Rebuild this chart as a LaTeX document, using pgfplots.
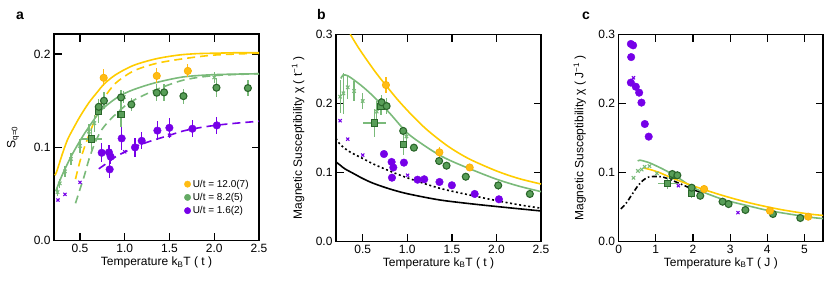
\documentclass[border=0pt]{standalone}
\usepackage{fontspec}
\setmainfont{Liberation Sans}
\usepackage{pgfplots}
\pgfplotsset{compat=1.18}
\definecolor{ygold}{RGB}{255,204,0}
\definecolor{yfill}{RGB}{255,188,20}
\definecolor{yedge}{RGB}{250,175,0}
\definecolor{lgreen}{RGB}{122,186,122}
\definecolor{dgfill}{RGB}{88,158,88}
\definecolor{dgdraw}{RGB}{42,102,42}
\definecolor{purp}{RGB}{118,0,232}
\pgfplotsset{
 panel/.style={scale only axis, anchor=south west,
   axis line style={line width=1.6pt}, tick style={line width=1.3pt, black}, major tick length=7.5pt, tick align=inside,
   xtick pos=both, ytick pos=both, xticklabel pos=lower, yticklabel pos=left,
   tick label style={font=\fontsize{12}{14}\selectfont}, label style={font=\fontsize{12}{14}\selectfont},
   xlabel style={at={(axis description cs:0.5,-0.105)}, anchor=center},
   clip=true},
 ycirc/.style={only marks, mark=*, mark size=3.7pt, color=yfill, mark options={fill=yfill, draw=yedge, line width=0.6pt}, error bars/.cd, y dir=both, y explicit, error mark=none, error bar style={line width=1.3pt, color=yfill}},
 gcirc/.style={only marks, mark=*, mark size=3.5pt, color=dgfill, mark options={fill=dgfill, draw=dgdraw, line width=1.1pt}, error bars/.cd, y dir=both, y explicit, error mark=none, error bar style={line width=1.3pt, color=lgreen}},
 gsq/.style={only marks, mark=square*, mark size=3.1pt, color=dgfill, mark options={fill=dgfill, draw=dgdraw, line width=1.1pt}, error bars/.cd, x dir=both, x explicit, y dir=both, y explicit, error mark=none, error bar style={line width=1.3pt, color=lgreen}},
 lcross/.style={only marks, mark=x, mark size=2.4pt, color=lgreen, mark options={line width=1.1pt}, error bars/.cd, y dir=both, y explicit, error mark=none, error bar style={line width=1.2pt, color=lgreen}},
 pcirc/.style={only marks, mark=*, mark size=3.8pt, color=purp, mark options={fill=purp, draw=purp}, error bars/.cd, y dir=both, y explicit, error mark=none, error bar style={line width=1.3pt, color=purp}},
 pcross/.style={only marks, mark=x, mark size=2.2pt, color=purp, mark options={line width=1.1pt}},
}
\begin{document}
\begin{tikzpicture}[x=1pt,y=1pt]
\useasboundingbox (0,0) rectangle (830,282);
\node[font=\fontsize{14}{16}\selectfont\bfseries, anchor=base west] at (12.5,262) {a};
\node[font=\fontsize{14}{16}\selectfont\bfseries, anchor=base west] at (313.5,262) {b};
\node[font=\fontsize{14}{16}\selectfont\bfseries, anchor=base west] at (578.5,262) {c};
% ---------------- panel a
\begin{axis}[panel, at={(54pt,41.4pt)}, width=205pt, height=206.5pt,
  xmin=0.21, xmax=2.5, ymin=0, ymax=0.2215,
  xtick={0.5,1,1.5,2,2.5}, xticklabels={0.5,1.0,1.5,2.0,2.5},
  ytick={0,0.1,0.2}, yticklabels={0.0,0.1,0.2},
  xlabel={Temperature k\textsubscript{B}T ( t )},
  ylabel={S\textsubscript{q=0}},
  ylabel style={at={(axis description cs:-0.2,0.5)}, anchor=center},
  legend style={at={(axis description cs:0.63,0.31)}, anchor=north west, draw=none, fill=none, font=\fontsize{10}{12}\selectfont, inner sep=1pt, row sep=0.5pt},
  legend cell align=left,
  legend image code/.code={\draw[#1] plot coordinates {(0.25cm,0cm)};},
  ]
\addplot[forget plot, ygold, line width=1.6pt, smooth] coordinates {(0.22,0.070)(0.24,0.074)(0.3,0.092)(0.36,0.108)(0.43,0.121)(0.5,0.133)(0.6,0.148)(0.7,0.160)(0.77,0.168)(0.9,0.178)(1.1,0.188)(1.35,0.195)(1.6,0.199)(1.8,0.2005)(2.0,0.201)(2.25,0.2015)(2.5,0.2015)};
\addplot[forget plot, ygold, line width=1.6pt, dash pattern=on 8pt off 5pt, smooth] coordinates {(0.45,0.066)(0.5,0.085)(0.55,0.100)(0.6,0.113)(0.7,0.138)(0.77,0.153)(0.9,0.169)(1.1,0.182)(1.35,0.190)(1.65,0.195)(2.0,0.199)(2.5,0.201)};
\addplot[forget plot, lgreen, line width=1.6pt, smooth] coordinates {(0.23,0.053)(0.3,0.070)(0.4,0.090)(0.5,0.107)(0.6,0.122)(0.73,0.139)(0.85,0.149)(0.96,0.156)(1.1,0.162)(1.33,0.169)(1.65,0.1755)(2.0,0.178)(2.5,0.179)};
\addplot[forget plot, lgreen, line width=1.6pt, dash pattern=on 8pt off 5pt, smooth] coordinates {(0.45,0.040)(0.5,0.055)(0.55,0.070)(0.6,0.087)(0.66,0.103)(0.73,0.117)(0.82,0.128)(0.95,0.140)(1.07,0.149)(1.33,0.161)(1.65,0.172)(2.0,0.177)(2.5,0.179)};
\addplot[forget plot, purp, line width=1.6pt, dash pattern=on 8pt off 5pt, smooth] coordinates {(0.71,0.077)(0.8,0.083)(0.9,0.090)(1.0,0.095)(1.15,0.102)(1.33,0.108)(1.5,0.113)(1.65,0.1175)(1.8,0.1205)(2.0,0.1235)(2.25,0.126)(2.5,0.128)};
\addplot[forget plot, lcross] coordinates {(0.25,0.052) +- (0,0.004) (0.275,0.0614) +- (0,0.005) (0.332,0.0743) +- (0,0.006) (0.40,0.0876) +- (0,0.006) (0.5,0.1015) +- (0,0.008) (0.60,0.117) +- (0,0.008) (0.66,0.126) +- (0,0.009) (0.99,0.154) +- (0,0.006) (2.0,0.175) +- (0,0.006)};
\addplot[forget plot, pcross] coordinates {(0.254,0.0435)(0.332,0.0496)(0.5,0.0625)(1.0,0.0953)(1.5,0.113)};
\addplot[forget plot, pcirc] coordinates {(0.743,0.0942) +- (0,0.010) (0.824,0.0946) +- (0,0.008) (0.843,0.090) +- (0,0.008) (0.832,0.0764) +- (0,0.009) (0.966,0.1096) +- (0,0.012) (1.115,0.100) +- (0,0.010) (1.19,0.107) +- (0,0.009) (1.365,0.118) +- (0,0.010) (1.499,0.121) +- (0,0.011) (1.756,0.120) +- (0,0.009) (2.029,0.1236) +- (0,0.009)};
\addplot[forget plot, gsq] coordinates {(0.63,0.109) +- (0.12,0.012) (0.705,0.1386) +- (0,0.012) (0.959,0.1354) +- (0,0.014)};
\addplot[forget plot, gcirc] coordinates {(0.71,0.1435) +- (0,0.008) (0.768,0.150) +- (0,0.009) (0.959,0.1536) +- (0,0.008) (1.074,0.146) +- (0,0.007) (1.358,0.1586) +- (0,0.009) (1.44,0.159) +- (0,0.009) (1.656,0.155) +- (0,0.008) (2.025,0.164) +- (0,0.010) (2.376,0.1636) +- (0,0.009)};
\addplot[forget plot, ycirc] coordinates {(0.765,0.1746) +- (0,0.009) (1.358,0.1767) +- (0,0.008) (1.705,0.182) +- (0,0.007)};
\addlegendimage{only marks, mark=*, mark size=3.2pt, yfill}
\addlegendentry{U/t = 12.0(7)}
\addlegendimage{only marks, mark=*, mark size=3.2pt, color={rgb,255:red,100;green,170;blue,100}}
\addlegendentry{U/t = 8.2(5)}
\addlegendimage{only marks, mark=*, mark size=3.2pt, purp}
\addlegendentry{U/t = 1.6(2)}
\end{axis}
% ---------------- panel b
\begin{axis}[panel, at={(336pt,40.7pt)}, width=205pt, height=207pt,
  xmin=0.2, xmax=2.5, ymin=0, ymax=0.3,
  xtick={0.5,1,1.5,2,2.5}, xticklabels={0.5,1.0,1.5,2.0,2.5},
  ytick={0,0.1,0.2,0.3}, yticklabels={0.0,0.1,0.2,0.3},
  xlabel={Temperature k\textsubscript{B}T ( t )},
  ylabel={Magnetic Susceptibility χ ( t\textsuperscript{−1} )},
  ylabel style={at={(axis description cs:-0.185,0.5)}, anchor=center},
  ]
\addplot[forget plot, black, line width=1.6pt, smooth] coordinates {(0.2,0.115)(0.25,0.110)(0.3,0.105)(0.4,0.098)(0.5,0.091)(0.62,0.084)(0.8,0.076)(1.0,0.069)(1.36,0.060)(1.74,0.054)(2.11,0.049)(2.5,0.044)};
\addplot[forget plot, black, line width=1.6pt, dash pattern=on 2pt off 2.6pt, smooth] coordinates {(0.2,0.149)(0.25,0.140)(0.35,0.130)(0.5,0.120)(0.62,0.112)(0.8,0.102)(1.0,0.092)(1.36,0.077)(1.74,0.066)(2.0,0.059)(2.25,0.053)(2.5,0.048)};
\addplot[forget plot, ygold, line width=1.6pt, smooth] coordinates {(0.36,0.30)(0.45,0.281)(0.55,0.262)(0.65,0.244)(0.76,0.226)(0.9,0.204)(1.05,0.183)(1.2,0.164)(1.36,0.147)(1.5,0.134)(1.7,0.119)(2.0,0.102)(2.25,0.091)(2.5,0.083)};
\addplot[forget plot, lgreen, line width=1.6pt, smooth] coordinates {(0.255,0.236)(0.28,0.241)(0.33,0.240)(0.4,0.234)(0.5,0.224)(0.62,0.210)(0.8,0.186)(1.0,0.157)(1.2,0.138)(1.36,0.125)(1.5,0.116)(1.74,0.103)(2.0,0.090)(2.25,0.080)(2.5,0.072)};
\addplot[forget plot, lcross] coordinates {(0.246,0.2096) +- (0,0.024) (0.283,0.2145) +- (0,0.030) (0.332,0.2232) +- (0,0.017) (0.403,0.2178) +- (0,0.015) (0.5,0.2033) +- (0,0.012) (0.657,0.188) +- (0,0.015) (0.99,0.152) +- (0,0.006)};
\addplot[forget plot, pcross] coordinates {(0.246,0.1748)(0.332,0.148)(0.5,0.125)(1.003,0.0957)};
\addplot[forget plot, pcirc] coordinates {(0.738,0.1265)(0.824,0.115)(0.843,0.107)(0.828,0.0922)(0.962,0.114)(1.115,0.0893)(1.19,0.0899)(1.361,0.086)(1.5,0.0812)(1.756,0.0686)(2.028,0.0609)};
\addplot[forget plot, gsq] coordinates {(0.634,0.1714) +- (0.13,0.02) (0.705,0.195) +- (0,0.012) (0.954,0.1405) +- (0,0.015)};
\addplot[forget plot, gcirc] coordinates {(0.712,0.2015) +- (0,0.010) (0.768,0.196) +- (0,0.012) (0.954,0.160) +- (0,0.006) (1.074,0.1357) +- (0,0.005) (1.357,0.1164) +- (0,0.006) (1.44,0.1096) +- (0,0.005) (1.656,0.0936) +- (0,0.004) (2.02,0.081) +- (0,0.006) (2.375,0.0686) +- (0,0.004)};
\addplot[forget plot, ycirc] coordinates {(0.76,0.2265) +- (0,0.012) (1.36,0.129) +- (0,0.008) (1.70,0.107) +- (0,0.004)};
\end{axis}
% ---------------- panel c
\begin{axis}[panel, at={(618.6pt,40.7pt)}, width=204.5pt, height=207pt,
  xmin=0, xmax=5.5, ymin=0, ymax=0.3,
  xtick={0,1,2,3,4,5}, xticklabels={0,1,2,3,4,5},
  ytick={0,0.1,0.2,0.3}, yticklabels={0.0,0.1,0.2,0.3},
  xlabel={Temperature k\textsubscript{B}T ( J )},
  ylabel={Magnetic Susceptibility χ ( J\textsuperscript{−1} )},
  ylabel style={at={(axis description cs:-0.19,0.5)}, anchor=center},
  ]
\addplot[forget plot, black, line width=1.6pt, dash pattern=on 5pt off 2.5pt on 1.5pt off 2.5pt, smooth] coordinates {(0.06,0.047)(0.2,0.055)(0.35,0.067)(0.5,0.079)(0.65,0.088)(0.8,0.093)(1.0,0.094)(1.2,0.093)(1.5,0.087)(1.8,0.080)(2.1,0.073)(2.2,0.071)};
\addplot[forget plot, lgreen, line width=1.6pt, smooth] coordinates {(0.52,0.116)(0.574,0.1176)(0.82,0.114)(1.025,0.109)(1.27,0.1025)(1.64,0.0908)(2.05,0.0766)(2.79,0.061)(3.57,0.0503)(4.1,0.0439)(5.12,0.0351)(5.5,0.0330)};
\addplot[forget plot, ygold, line width=1.6pt, smooth] coordinates {(0.69,0.106)(0.85,0.104)(1.08,0.100)(1.35,0.0937)(1.65,0.0873)(1.95,0.0813)(2.28,0.0753)(2.7,0.068)(3.15,0.061)(3.6,0.0547)(4.08,0.049)(4.5,0.0447)(5.1,0.0397)(5.5,0.0375)};
\addplot[forget plot, lcross] coordinates {(0.40,0.092)(0.52,0.102)(0.62,0.104)(0.70,0.108)(0.83,0.109)(1.03,0.0985)};
\addplot[forget plot, pcross] coordinates {(0.40,0.237)(1.607,0.0806)(3.21,0.0415)};
\addplot[forget plot, pcirc] coordinates {(0.33,0.286)(0.39,0.284)(0.338,0.267)(0.33,0.23)(0.463,0.224)(0.553,0.2154)(0.615,0.201)(0.705,0.170)(0.81,0.1517)};
\addplot[forget plot, gsq] coordinates {(1.31,0.0835) +- (0.25,0.008) (1.455,0.095) +- (0,0.006) (1.965,0.069) +- (0,0.006)};
\addplot[forget plot, gcirc] coordinates {(1.445,0.0975)(1.58,0.0957)(1.965,0.0777)(2.196,0.066)(2.796,0.0574)(2.957,0.054)(3.41,0.0454)(4.15,0.0396)(4.887,0.0338)};
\addplot[forget plot, ycirc] coordinates {(2.30,0.0758)(4.07,0.0443)(5.1,0.0357)};
\end{axis}
\end{tikzpicture}
\end{document}
